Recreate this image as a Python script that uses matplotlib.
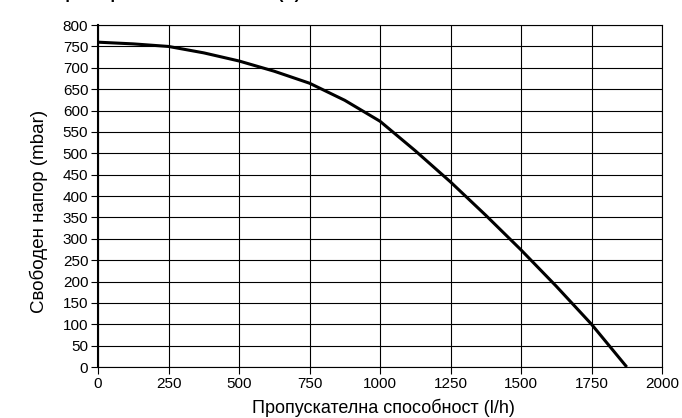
import matplotlib
matplotlib.use('Agg')
import matplotlib.pyplot as plt

# flow rate (l/h) and available head (mbar)
flow = [0, 125, 250, 375, 500, 625, 750, 875, 1000, 1125, 1250, 1375, 1500, 1625, 1750, 1875]
head = [760, 756, 750, 735, 716, 692, 664, 624, 575, 506, 433, 355, 274, 189, 100, 0]

xticks = [0, 250, 500, 750, 1000, 1250, 1500, 1750, 2000]
yticks = list(range(0, 801, 50))

title = 'Характеристика на помпата (Р)'
xlabel = 'Пропускателна способност (l/h)'
ylabel = 'Свободен напор (mbar)'

plt.rcParams['font.family'] = ['Liberation Sans', 'DejaVu Sans']

fig = plt.figure(figsize=(6.82, 4.18), dpi=100, facecolor='white')
ax = fig.add_axes([0.1437, 0.122, 0.827, 0.818])

ax.plot(flow, head, color='black', linewidth=2.2, solid_capstyle='butt',
        solid_joinstyle='round', zorder=3)

ax.set_xlim(0, 2000)
ax.set_ylim(0, 800)
ax.set_xticks(xticks)
ax.set_yticks(yticks)
ax.grid(True, color='black', linewidth=0.8)
ax.tick_params(direction='out', length=5, width=0.8, labelsize=11,
               color='black', pad=2)
for s in ax.spines.values():
    s.set_linewidth(0.8)
ax.spines['left'].set_linewidth(1.5)

# axis titles placed by hand, like in the reference
fig.text(383 / 682, 1 - 408 / 418, xlabel, fontsize=13, ha='center', va='center')
fig.text(39 / 682, 1 - 211 / 418, ylabel, fontsize=13.5, ha='center', va='center',
         rotation=90)

# title sits mostly above the top edge, only its lower part shows
fig.text(0.066, 1.003, title, fontsize=12, fontweight='bold', va='baseline', ha='left')

fig.savefig('out.png', dpi=100)
